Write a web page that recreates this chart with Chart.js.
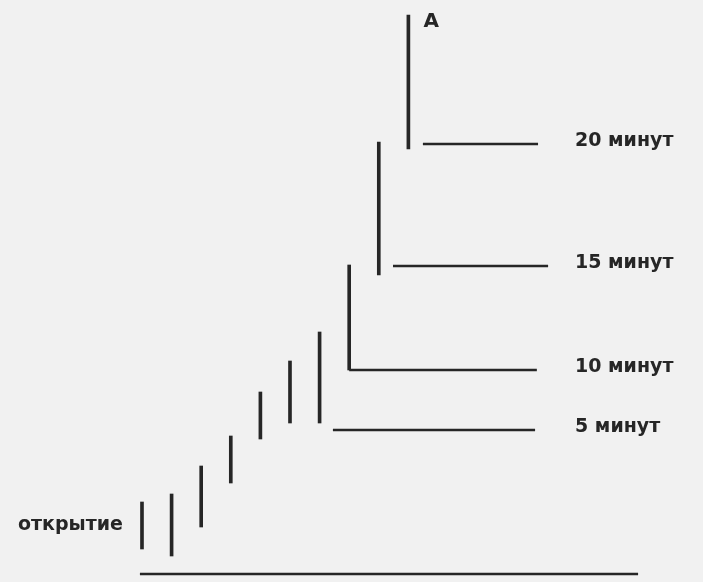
<!DOCTYPE html>
<html>
<head>
<meta charset="utf-8">
<script src="https://cdn.jsdelivr.net/npm/chart.js@4"></script>
<style>
  html, body { margin: 0; padding: 0; background: #f1f1f1; }
  canvas { display: block; }
</style>
</head>
<body>
<canvas id="chart" width="703" height="582"></canvas>
<script>
// price bars (one per minute), low / high
const barIndex = [0, 1, 2, 3, 4, 5, 6, 7, 8, 9];
const barLow = [2.6, 1.9, 4.8, 9.2, 13.6, 15.2, 15.2, 20.5, 30.0, 42.6];
const barHigh = [7.3, 8.1, 10.9, 13.9, 18.3, 21.4, 24.3, 31.0, 43.3, 56.0];

// levels of the opening range
const levelNames = ["5 минут", "10 минут", "15 минут", "20 минут"];
const levelValue = [14.5, 20.5, 30.9, 43.1];
const levelFrom = [6.45, 7.0, 8.48, 9.49];
const levelTo = [13.28, 13.34, 13.72, 13.38];

const baseLine = { from: -0.07, to: 16.76, value: 0.1 };
const openLabel = "открытие";
const peakLabel = "A";
const labelColumn = 14.63;

const ink = "#262626";

var levelSets = levelValue.map((v, i) => ({
    type: "line",
    data: [{ x: levelFrom[i], y: v }, { x: levelTo[i], y: v }],
    borderColor: ink,
    borderWidth: 2.5,
    pointRadius: 0,
}));

// подписи рисуем сами, через шкалы
const textPlugin = {
    id: "texts",
    afterDatasetsDraw(chart) {
        const c = chart.ctx;
        const xs = chart.scales.x;
        const ys = chart.scales.y;
        c.save();
        c.fillStyle = ink;
        c.font = "bold 19px 'DejaVu Sans'";
        c.textBaseline = "middle";
        c.textAlign = "left";
        levelNames.forEach((name, i) => {
            c.fillText(name, xs.getPixelForValue(labelColumn), ys.getPixelForValue(levelValue[i]) - 3);
        });
        c.textAlign = "right";
        c.fillText(openLabel, xs.getPixelForValue(barIndex[0]) - 19,
            ys.getPixelForValue((barLow[0] + barHigh[0]) / 2));
        c.font = "bold 20px 'DejaVu Sans'";
        c.textAlign = "left";
        c.textBaseline = "top";
        const last = barIndex.length - 1;
        c.fillText(peakLabel, xs.getPixelForValue(barIndex[last]) + 15, ys.getPixelForValue(barHigh[last]) - 3);
        c.restore();
    },
};

new Chart(document.getElementById("chart").getContext("2d"), {
    type: "bar",
    data: {
        datasets: [
            {
                type: "bar",
                data: barIndex.map((x, i) => ({ x: x, y: [barLow[i], barHigh[i]] })),
                backgroundColor: ink,
                borderWidth: 0,
                barThickness: 3,
            },
            ...levelSets,
            {
                type: "line",
                data: [{ x: baseLine.from, y: baseLine.value }, { x: baseLine.to, y: baseLine.value }],
                borderColor: ink,
                borderWidth: 2.5,
                pointRadius: 0,
            },
        ],
    },
    options: {
        responsive: false,
        animation: false,
        devicePixelRatio: 1,
        layout: { padding: 0 },
        plugins: { legend: { display: false }, tooltip: { enabled: false } },
        scales: {
            x: { type: "linear", min: -4.797, max: 18.953, offset: false, display: false },
            y: { type: "linear", min: -0.7, max: 57.5, display: false },
        },
    },
    plugins: [textPlugin],
});
</script>
</body>
</html>
